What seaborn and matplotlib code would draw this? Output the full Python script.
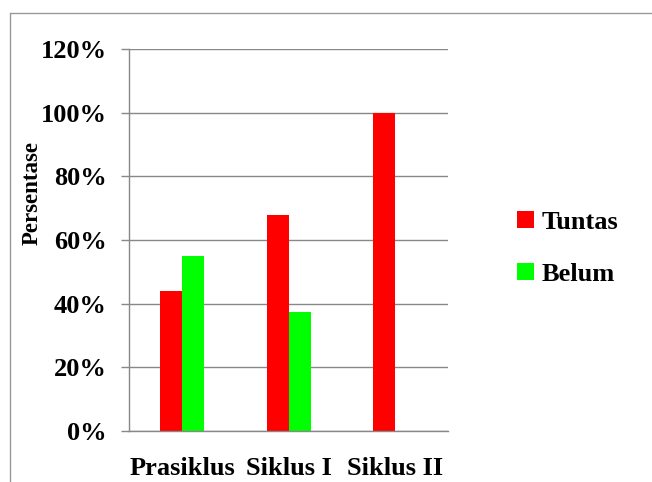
import matplotlib
matplotlib.use("Agg")
import matplotlib.pyplot as plt
import seaborn as sns
import pandas as pd
from matplotlib.lines import Line2D
from matplotlib.patches import Patch

categories = ["Prasiklus", "Siklus I", "Siklus II"]
tuntas = [44, 68, 100]
belum = [55, 37.5, 0]
series_names = ["Tuntas", "Belum"]
y_ticks = [0, 20, 40, 60, 80, 100, 120]
y_tick_labels = ["0%", "20%", "40%", "60%", "80%", "100%", "120%"]

df = pd.DataFrame({
    "Kategori": categories * 2,
    "Seri": [series_names[0]] * 3 + [series_names[1]] * 3,
    "Nilai": tuntas + belum,
})

sns.set_style("white")
plt.rcParams["font.family"] = ["Liberation Serif", "DejaVu Serif"]
plt.rcParams["font.weight"] = "bold"
plt.rcParams["text.color"] = "black"
plt.rcParams["axes.labelcolor"] = "black"

fig = plt.figure(figsize=(6.52, 4.82), dpi=100)
ax = fig.add_axes([0.198, 0.106, 0.489, 0.792])

palette = {"Tuntas": "#FF0000", "Belum": "#00FF00"}
sns.barplot(data=df, x="Kategori", y="Nilai", hue="Seri", palette=palette,
            width=0.414, saturation=1, ax=ax, legend=False, linewidth=0)

ax.set_xlim(-0.5, 2.5)
ax.set_ylim(0, 120)
ax.set_yticks(y_ticks)
ax.set_yticklabels(y_tick_labels, fontsize=19, fontweight="bold", color="black")
ax.set_xticks(range(len(categories)))
ax.set_xticklabels(categories, fontsize=19, fontweight="bold", color="black")
ax.set_xticks([-0.5, 0.5, 1.5, 2.5], minor=True)
ax.tick_params(axis="x", which="major", length=0, pad=19)
ax.tick_params(axis="x", which="minor", length=7.5, color="#888888", width=1, direction="out")
ax.tick_params(axis="y", which="major", length=6, color="#888888", width=1, pad=10, left=True)
ax.set_xlabel("")
ax.set_ylabel("Persentase", fontsize=16.5, fontweight="bold", color="black")
ax.yaxis.set_label_coords(-0.27, 0.623)

ax.grid(axis="y", color="#888888", linewidth=1)
ax.set_axisbelow(True)
for s in ["top", "right"]:
    ax.spines[s].set_visible(False)
for s in ["left", "bottom"]:
    ax.spines[s].set_color("#888888")
    ax.spines[s].set_linewidth(1)

handles = [Patch(facecolor=palette[n], edgecolor="none", label=n) for n in series_names]
leg = fig.legend(handles=handles, loc="center left", bbox_to_anchor=(0.756, 0.485),
                 frameon=False, prop={"size": 19, "weight": "bold"},
                 handlelength=0.65, handleheight=0.65, handletextpad=0.3, labelspacing=1.1)
for t in leg.get_texts():
    t.set_color("black")

fig.add_artist(Line2D([10 / 652, 1], [1 - 13 / 482, 1 - 13 / 482], color="#999999", linewidth=1))
fig.add_artist(Line2D([10 / 652, 10 / 652], [0, 1 - 13 / 482], color="#999999", linewidth=1))

fig.savefig("out.png", dpi=100)
